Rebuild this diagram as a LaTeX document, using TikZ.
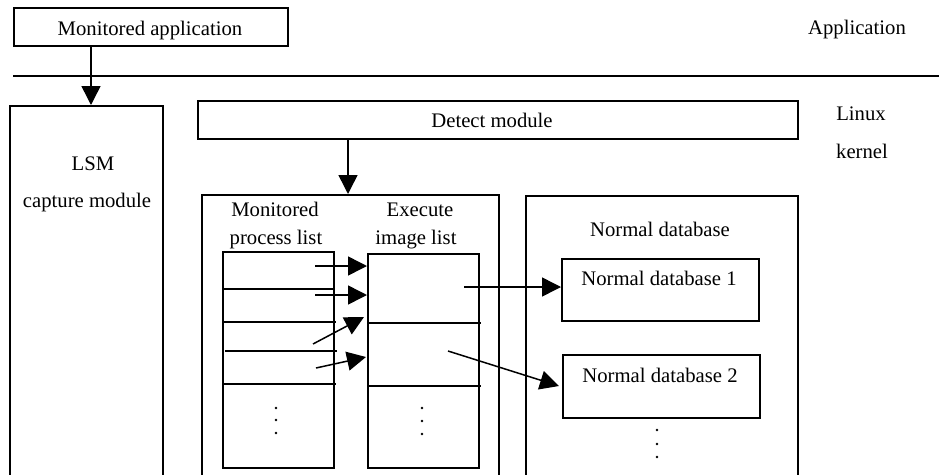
\documentclass[tikz,border=0pt]{standalone}
\usepackage{fontspec}
\setmainfont{Liberation Serif}
\usetikzlibrary{arrows.meta}
\begin{document}
\begin{tikzpicture}[x=1pt,y=-1pt,
  box/.style={draw, line width=1.6pt, anchor=north west, inner sep=0pt},
  lbl/.style={anchor=base, inner sep=0pt, font=\fontsize{20.7}{24}\selectfont},
  conn/.style={line width=1.5pt, -{Triangle[length=19pt,width=19pt]}},
  rowline/.style={line width=1.6pt},
  dotmark/.style={fill=black}]
\clip (0,0) rectangle (939,474);
\fill[white] (0,0) rectangle (939,474);
% boxes
\node[box, minimum width=274pt, minimum height=38pt] (ma) at (13,7) {};
\node[box, minimum width=153pt, minimum height=390pt] (lsm) at (9,105) {};
\node[box, minimum width=600pt, minimum height=38pt] (det) at (197,100) {};
\node[box, minimum width=297pt, minimum height=300pt] (big) at (201,194) {};
\node[box, minimum width=272pt, minimum height=300pt] (ndb) at (525,195) {};
\node[box, minimum width=197pt, minimum height=62pt] (nd1) at (561,258) {};
\node[box, minimum width=197pt, minimum height=63pt] (nd2) at (562,354) {};
\node[box, minimum width=111pt, minimum height=216pt] (pl) at (222,251) {};
\node[box, minimum width=111pt, minimum height=214pt] (il) at (367,253) {};
% separator line
\coordinate (sepL) at (13,76);
\coordinate (sepR) at (939,76);
\draw[line width=1.6pt] (sepL) -- (sepR);
% texts
\node[lbl] (tma) at (150,35.5) {Monitored application};
\node[lbl] (tapp) at (857,34.5) {Application};
\node[lbl] (tlsm) at (93,170) {LSM};
\node[lbl] (tcap) at (87,207) {capture module};
\node[lbl] (tdet) at (492,127.7) {Detect module};
\node[lbl] (tlin) at (861,120) {Linux};
\node[lbl] (tker) at (862,158) {kernel};
\node[lbl] (tmon) at (275,216) {Monitored};
\node[lbl] (tpro) at (276,244) {process list};
\node[lbl] (texe) at (420,216) {Execute};
\node[lbl] (timg) at (416,244) {image list};
\node[lbl] (tndb) at (660,236) {Normal database};
\node[lbl] (tnd1) at (659,285) {Normal database 1};
\node[lbl] (tnd2) at (660,382) {Normal database 2};
% row lines
\draw[rowline] (222,289) -- (333,289);
\draw[rowline] (224,322) -- (336,322);
\draw[rowline] (225,351) -- (337,351);
\draw[rowline] (224,384) -- (336,384);
\draw[rowline] (369,323) -- (481,323);
\draw[rowline] (369,386) -- (481,386);
% dots
\foreach \y in {408,420,433} \fill[dotmark] (276,\y) circle (1.3pt);
\foreach \y in {408,421,434} \fill[dotmark] (422,\y) circle (1.3pt);
\foreach \y in {430,444,457} \fill[dotmark] (657,\y) circle (1.3pt);
% connectors
\coordinate (m1) at (91,45);
\draw[conn] (m1) -- (m1 |- lsm.north);
\coordinate (d1) at (348,138);
\draw[conn] (d1) -- (d1 |- big.north);
\coordinate (p1) at (315,266);
\draw[conn] (p1) -- (p1 -| il.west);
\coordinate (p2) at (315,295);
\draw[conn] (p2) -- (p2 -| il.west);
\coordinate (p3) at (313,344);
\coordinate (e3) at (364,317);
\draw[conn] (p3) -- (e3);
\coordinate (p4) at (316,368);
\coordinate (e4) at (366,357);
\draw[conn] (p4) -- (e4);
\coordinate (i1) at (464,287);
\draw[conn] (i1) -- (i1 -| nd1.west);
\coordinate (i2) at (448,351);
\coordinate (e6) at (559,386);
\draw[conn] (i2) -- (e6);
\end{tikzpicture}
\end{document}
